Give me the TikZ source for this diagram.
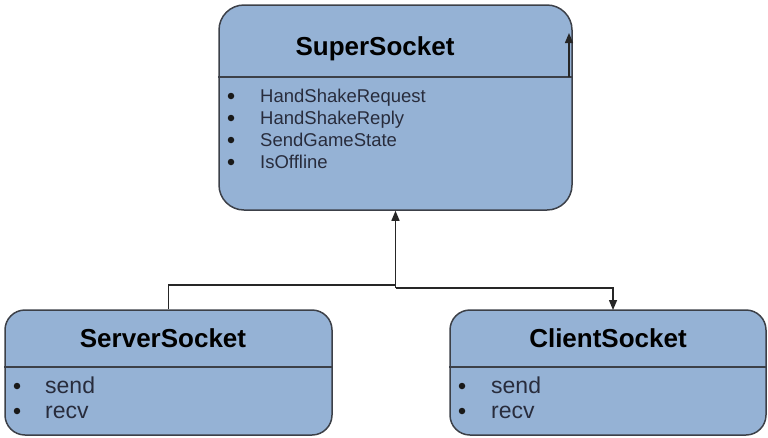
\documentclass[tikz,border=0pt]{standalone}
\usepackage{fontspec}
\setmainfont{Liberation Sans}
\usetikzlibrary{arrows.meta}
\definecolor{boxfill}{RGB}{149,178,213}
\definecolor{boxline}{RGB}{60,64,72}
\definecolor{itemtext}{RGB}{40,44,60}
\tikzset{
  umlbox/.style={draw=boxline, fill=boxfill, line width=1.5pt, inner sep=0pt},
  divider/.style={draw=boxline, line width=1.3pt},
  title/.style={anchor=base, font=\fontsize{26}{30}\selectfont\bfseries, text=black, inner sep=0pt},
  itemS/.style={anchor=base west, font=\fontsize{18.5}{21}\selectfont, text=itemtext, inner sep=0pt},
  itemL/.style={anchor=base west, font=\fontsize{23}{26}\selectfont, text=itemtext, inner sep=0pt},
  bul/.style={circle, fill=black!90, inner sep=0pt, minimum size=6.5pt},
  conn/.style={draw=black!85, line width=1.4pt},
  arr/.style={conn, -{Triangle[length=10pt,width=8pt]}}
}
\begin{document}
\begin{tikzpicture}[x=1pt,y=-1pt]
\useasboundingbox (0,0) rectangle (768,437);
% boxes
\node[umlbox, rounded corners=25pt, minimum width=353pt, minimum height=205pt] (super) at (395.5,107.5) {};
\node[umlbox, rounded corners=20pt, minimum width=327pt, minimum height=125pt] (server) at (168.5,372.5) {};
\node[umlbox, rounded corners=20pt, minimum width=316pt, minimum height=125pt] (client) at (608,372.5) {};
% dividers
\draw[divider] (super.west |- 0,77) -- (super.east |- 0,77);
\draw[divider] (server.west |- 0,367) -- (server.east |- 0,367);
\draw[divider] (client.west |- 0,367) -- (client.east |- 0,367);
% titles
\node[title] (tsuper) at (375,55) {SuperSocket};
\node[title] (tserver) at (163,347) {ServerSocket};
\node[title] (tclient) at (608,347) {ClientSocket};
% super items
\node[itemS] (s1) at (260,102) {HandShakeRequest};
\node[itemS] (s2) at (260,124) {HandShakeReply};
\node[itemS] (s3) at (260,146) {SendGameState};
\node[itemS] (s4) at (260,168) {IsOffline};
\foreach \y/\n in {102/b1,124/b2,146/b3,168/b4} \node[bul] (\n) at (231,\y-6) {};
% server items
\node[itemL] (sv1) at (45,393) {send};
\node[itemL] (sv2) at (45,418) {recv};
\node[bul] (sb1) at (17,386) {};
\node[bul] (sb2) at (17,411) {};
% client items
\node[itemL] (cl1) at (491,393) {send};
\node[itemL] (cl2) at (491,418) {recv};
\node[bul] (cb1) at (462,386) {};
\node[bul] (cb2) at (462,411) {};
% connectors
\coordinate (j1) at (super.south |- 0,285);
\coordinate (j2) at (super.south |- 0,288);
\coordinate (cTop) at (613,310);
\draw[conn] (server.north) |- (j1);
\draw[arr] (j2) -- (super.south);
\draw[arr] (j2) -| (cTop);
% small arrow at top right of SuperSocket
\coordinate (trA) at (569,77);
\coordinate (trB) at (569,33);
\draw[arr] (trA) -- (trB);
\end{tikzpicture}
\end{document}
